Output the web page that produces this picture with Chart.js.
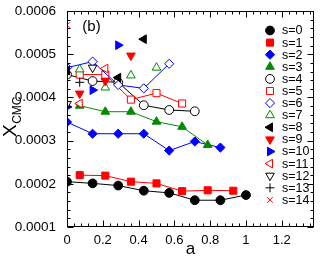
<!DOCTYPE html>
<html><head><meta charset="utf-8">
<script src="https://cdn.jsdelivr.net/npm/chart.js@4.4.1/dist/chart.umd.min.js"></script>
<style>html,body{margin:0;padding:0;background:#fff;overflow:hidden}#wrap{width:320px;height:259px}</style>
</head><body><div id="wrap"><canvas id="c" width="320" height="259"></canvas></div>
<script>
// ---- data ----
const seriesLabels = ['s=0','s=1','s=2','s=3','s=4','s=5','s=6','s=7','s=8','s=9','s=10','s=11','s=12','s=13','s=14'];
const aS0 = [0, 0.143, 0.286, 0.429, 0.571, 0.714, 0.857, 1];
const yS0 = [0.000205, 0.000201, 0.000196, 0.000184, 0.000179, 0.000162, 0.000162, 0.000174];
const aS1 = [0.071, 0.214, 0.357, 0.5, 0.643, 0.786, 0.929];
const yS1 = [0.000220, 0.000219, 0.000205, 0.000201, 0.000183, 0.000185, 0.000184];
const aS2 = [0, 0.143, 0.286, 0.429, 0.571, 0.714, 0.857];
const yS2 = [0.000343, 0.000316, 0.000316, 0.000316, 0.000277, 0.000298, 0.000284];
const aS3 = [0.071, 0.214, 0.357, 0.5, 0.643, 0.786];
const yS3 = [0.000381, 0.000367, 0.000367, 0.000344, 0.000332, 0.000290];
const aS4 = [0, 0.143, 0.286, 0.429, 0.571, 0.714];
const yS4 = [0.000453, 0.000438, 0.000435, 0.000382, 0.000371, 0.000368];
const aS5 = [0.071, 0.214, 0.357, 0.5, 0.643];
const yS5 = [0.000453, 0.000453, 0.000395, 0.000410, 0.000386];
const aS6 = [0, 0.143, 0.286, 0.429, 0.571];
const yS6 = [0.000469, 0.000483, 0.000429, 0.000421, 0.000478];
const aS7 = [0.071, 0.214, 0.357, 0.5];
const yS7 = [0.000465, 0.000423, 0.000451, 0.000469];
const aS8 = [0, 0.286, 0.429];
const yS8 = [0.000462, 0.000446, 0.000535];
const aS9 = [0.071, 0.214, 0.357];
const yS9 = [0.000409, 0.000438, 0.000497];
const aS10 = [0, 0.143, 0.286];
const yS10 = [0.000378, 0.000417, 0.000521];
const aS11 = [0.071, 0.214];
const yS11 = [0.000386, 0.000467];
const aS12 = [0, 0.143];
const yS12 = [0.000385, 0.000469];
const aS13 = [0.071];
const yS13 = [0.000435];
const aS14 = [0];
const yS14 = [0.000568];
const xTickValues = [0, 0.2, 0.4, 0.6, 0.8, 1, 1.2];
const xTickLabels = ['0', '0.2', '0.4', '0.6', '0.8', '1', '1.2'];
const yTickValues = [0.0001, 0.0002, 0.0003, 0.0004, 0.0005, 0.0006];
const yTickLabels = ['0.0001', '0.0002', '0.0003', '0.0004', '0.0005', '0.0006'];
const xTitle = 'a';
const yTitleMain = 'X';
const yTitleSub = 'CMC';
const panelLabel = '(b)';

// ---- styles ----
const allA = [aS0,aS1,aS2,aS3,aS4,aS5,aS6,aS7,aS8,aS9,aS10,aS11,aS12,aS13,aS14];
const allY = [yS0,yS1,yS2,yS3,yS4,yS5,yS6,yS7,yS8,yS9,yS10,yS11,yS12,yS13,yS14];
const BLK='#000000', RED='#ff0000', BLU='#0000ff', GRN='#008b00';
const styles = [
  {c:BLK, ps:'circle',   rot:0,   fill:true,  r:4.4, line:true},
  {c:RED, ps:'rect',     rot:0,   fill:true,  r:5.0, line:true},
  {c:BLU, ps:'rectRot',  rot:0,   fill:true,  r:4.6, line:true},
  {c:GRN, ps:'triangle', rot:0,   fill:true,  r:5.0, line:true},
  {c:BLK, ps:'circle',   rot:0,   fill:false, r:4.4, line:true},
  {c:RED, ps:'rect',     rot:0,   fill:false, r:5.0, line:true},
  {c:BLU, ps:'rectRot',  rot:0,   fill:false, r:4.6, line:true},
  {c:GRN, ps:'triangle', rot:0,   fill:false, r:5.0, line:false},
  {c:BLK, ps:'triangle', rot:270, fill:true,  r:5.0, line:false},
  {c:RED, ps:'triangle', rot:180, fill:true,  r:5.0, line:false},
  {c:BLU, ps:'triangle', rot:90,  fill:true,  r:5.0, line:false},
  {c:RED, ps:'triangle', rot:270, fill:false, r:5.0, line:false},
  {c:BLK, ps:'triangle', rot:180, fill:false, r:5.0, line:false},
  {c:BLK, ps:'cross',    rot:0,   fill:false, r:4.5, line:false},
  {c:RED, ps:'crossRot', rot:0,   fill:false, r:4.0, line:false}
];
const FONT = "'Liberation Sans', Arial, Helvetica, sans-serif";

const datasets = seriesLabels.map((lab, i) => {
  const st = styles[i];
  return {
    label: lab,
    data: allA[i].map((a, k) => ({x: a, y: allY[i][k]})),
    showLine: st.line,
    borderColor: st.c,
    borderWidth: 1,
    backgroundColor: st.fill ? st.c : '#ffffff',
    pointStyle: st.ps,
    pointRotation: st.rot,
    pointRadius: st.r,
    pointBorderColor: st.c,
    pointBackgroundColor: st.fill ? st.c : '#ffffff',
    pointBorderWidth: 1,
    fill: false,
    tension: 0,
    order: 100 - i
  };
});

function drawMarker(ctx, st, x, y) {
  ctx.save();
  ctx.fillStyle = st.fill ? st.c : '#ffffff';
  ctx.strokeStyle = st.c;
  ctx.lineWidth = 1;
  Chart.helpers.drawPoint(ctx, {pointStyle: st.ps, rotation: st.rot, radius: st.r, borderWidth: 1}, x, y);
  ctx.restore();
}

const decor = {
  id: 'decor',
  afterDraw(chart) {
    const ctx = chart.ctx, xs = chart.scales.x, ys = chart.scales.y, ca = chart.chartArea;
    const L = Math.round(ca.left) + 0.5, R = Math.round(ca.right) - 0.5;
    const T = Math.round(ca.top) + 0.5, B = Math.round(ca.bottom) - 0.5;
    ctx.save();
    ctx.strokeStyle = '#000'; ctx.lineWidth = 1;
    ctx.strokeRect(L, T, R - L, B - T);
    ctx.beginPath();
    for (let k = 0; k * 0.04 <= xs.max + 1e-9; k++) {
      const v = k * 0.04;
      const px = Math.round(xs.getPixelForValue(v)) + 0.5;
      const len = (k % 5 === 0) ? 6 : 3;
      ctx.moveTo(px, B); ctx.lineTo(px, B - len);
      ctx.moveTo(px, T); ctx.lineTo(px, T + len);
    }
    for (let k = 0; k <= 25; k++) {
      const v = ys.min + k * 0.00002;
      const py = Math.round(ys.getPixelForValue(v)) + 0.5;
      const len = (k % 5 === 0) ? 6 : 3;
      ctx.moveTo(L, py); ctx.lineTo(L + len, py);
      ctx.moveTo(R, py); ctx.lineTo(R - len, py);
    }
    ctx.stroke();

    // legend inside the plot
    ctx.font = '12.5px ' + FONT;
    ctx.textBaseline = 'middle';
    ctx.textAlign = 'left';
    chart.data.datasets.forEach((ds, i) => {
      const y = 30.5 + i * 12.1;
      drawMarker(ctx, styles[i], 270, y);
      ctx.fillStyle = '#000';
      ctx.fillText(ds.label, 282, y + 0.5);
    });

    // panel label
    ctx.fillStyle = '#000';
    ctx.font = '15px ' + FONT;
    ctx.textAlign = 'center';
    ctx.fillText(panelLabel, 91.5, 26.5);

    // x title
    ctx.font = '17px ' + FONT;
    ctx.textAlign = 'center';
    ctx.textBaseline = 'middle';
    ctx.fillText(xTitle, (ca.left + ca.right) / 2, 249);

    // y title with subscript
    ctx.translate(16, 137);
    ctx.rotate(-Math.PI / 2);
    ctx.textAlign = 'left';
    ctx.textBaseline = 'alphabetic';
    ctx.font = '19px ' + FONT;
    ctx.fillText(yTitleMain, 0, 0);
    const w = ctx.measureText(yTitleMain).width;
    ctx.font = '12px ' + FONT;
    ctx.fillText(yTitleSub, w + 0.5, 5);
    ctx.restore();
  }
};

new Chart(document.getElementById('c'), {
  type: 'scatter',
  data: { datasets },
  options: {
    responsive: false,
    animation: false,
    devicePixelRatio: 1,
    layout: { padding: { left: 0, right: 2, top: 5, bottom: 0 } },
    plugins: { legend: { display: false }, tooltip: { enabled: false } },
    scales: {
      x: {
        type: 'linear', min: 0, max: 1.38,
        grid: { display: false }, border: { display: false },
        afterFit(s) { s.height = 32; },
        afterBuildTicks(s) { s.ticks = xTickValues.map(v => ({ value: v })); },
        ticks: { autoSkip: false, maxRotation: 0, padding: -2, color: '#000',
                 font: { size: 13, family: FONT },
                 callback: (v, i) => xTickLabels[i] }
      },
      y: {
        type: 'linear', min: 0.0001, max: 0.0006,
        grid: { display: false }, border: { display: false },
        afterFit(s) { s.width = 67; },
        afterBuildTicks(s) { s.ticks = yTickValues.map(v => ({ value: v })); },
        ticks: { autoSkip: false, padding: 3, color: '#000',
                 font: { size: 13.5, family: FONT },
                 callback: (v, i) => yTickLabels[i] }
      }
    }
  },
  plugins: [decor]
});
</script>
</body></html>
